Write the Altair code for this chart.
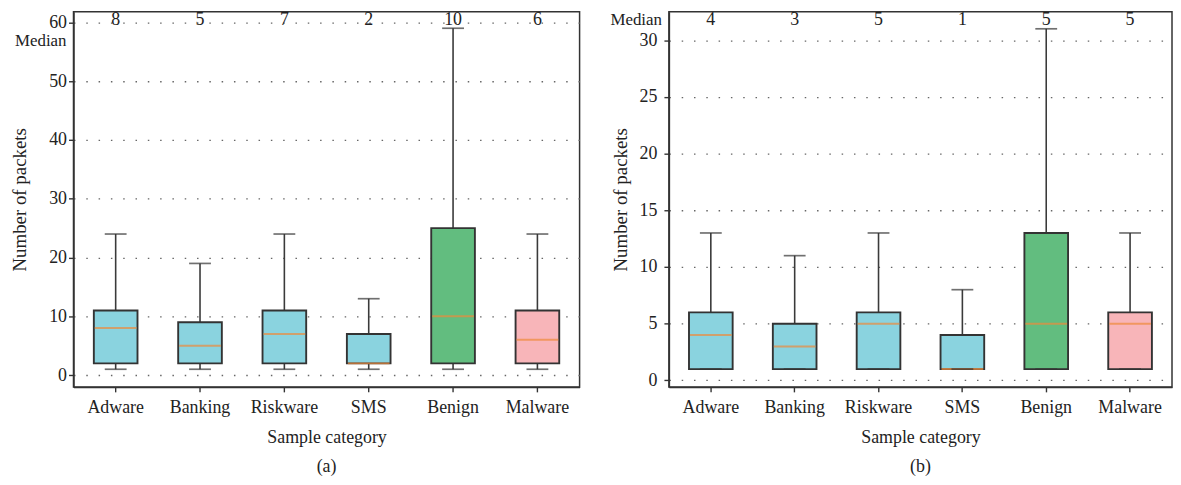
import altair as alt
import pandas as pd

categories = ["Adware", "Banking", "Riskware", "SMS", "Benign", "Malware"]

# Panel (a)
a_min = [1, 1, 1, 1, 1, 1]
a_q1 = [2, 2, 2, 2, 2, 2]
a_med = [8, 5, 7, 2, 10, 6]
a_q3 = [11, 9, 11, 7, 25, 11]
a_max = [24, 19, 24, 13, 59, 24]
a_ticks = [0, 10, 20, 30, 40, 50, 60]

# Panel (b)
b_min = [1, 1, 1, 1, 1, 1]
b_q1 = [1, 1, 1, 1, 1, 1]
b_med = [4, 3, 5, 1, 5, 5]
b_q3 = [6, 5, 6, 4, 13, 6]
b_max = [13, 11, 13, 8, 31, 13]
b_ticks = [0, 5, 10, 15, 20, 25, 30]

box_colors = ["#8AD3DF", "#8AD3DF", "#8AD3DF", "#8AD3DF", "#62BD7F", "#F8B5B9"]

FONT = "Liberation Serif"
TXT = "#222222"
LINE = "#333333"


def panel(mins, q1, med, q3, maxs, ticks, domain, width, label_pad, title_pad, median_xy, sub):
    df = pd.DataFrame({"cat": categories, "lo": mins, "q1": q1, "med": med,
                       "q3": q3, "hi": maxs})
    x = alt.X("cat:N", sort=categories, title="Sample category",
              scale=alt.Scale(paddingInner=0, paddingOuter=0),
              axis=alt.Axis(labelAngle=0, tickSize=5, labelPadding=7,
                            titlePadding=12, grid=False))
    yscale = alt.Scale(domain=domain, nice=False, zero=False)
    yaxis = alt.Axis(values=ticks, grid=True, gridDash=[1.5, 10.9],
                     gridColor="#666666", gridWidth=1.3, tickSize=5,
                     labelPadding=label_pad, titlePadding=title_pad,
                     title="Number of packets", titleFontSize=19)
    base = alt.Chart(df)
    upper = base.mark_rule(color="#3a3a3a", strokeWidth=1.6).encode(
        x=x, y=alt.Y("q3:Q", scale=yscale, axis=yaxis), y2="hi:Q")
    lower = base.mark_rule(color="#3a3a3a", strokeWidth=1.6).encode(
        x=x, y=alt.Y("lo:Q", scale=yscale), y2="q1:Q")
    box = base.mark_bar(size=44, stroke=LINE, strokeWidth=1.9).encode(
        x=x, y=alt.Y("q1:Q", scale=yscale), y2="q3:Q",
        color=alt.Color("cat:N", sort=categories, legend=None,
                        scale=alt.Scale(domain=categories, range=box_colors)))
    median = base.mark_tick(size=42, thickness=2, color="#EE8A3A").encode(
        x=x, y=alt.Y("med:Q", scale=yscale))
    cap_hi = base.mark_tick(size=22, thickness=1.7, color=LINE).encode(
        x=x, y=alt.Y("hi:Q", scale=yscale))
    cap_lo = base.mark_tick(size=22, thickness=1.7, color=LINE).encode(
        x=x, y=alt.Y("lo:Q", scale=yscale))
    top_txt = base.mark_text(font=FONT, fontSize=18, color=TXT,
                             baseline="middle").encode(
        x=x, y=alt.value(8), text="med:Q")
    med_lbl = alt.Chart(pd.DataFrame({"t": ["Median"]})).mark_text(
        font=FONT, fontSize=17, color=TXT, align="right", baseline="middle"
    ).encode(x=alt.value(median_xy[0]), y=alt.value(median_xy[1]), text="t:N")
    return alt.layer(upper, lower, box, median, cap_hi, cap_lo, top_txt, med_lbl).properties(
        width=width, height=378,
        title=alt.TitleParams(sub, orient="bottom", font=FONT, fontSize=18,
                              fontWeight="normal", color=TXT, offset=12))


left = panel(a_min, a_q1, a_med, a_q3, a_max, a_ticks, [-2.0, 61.8], 510, 2, 19,
             (-7, 29), "(a)")
right = panel(b_min, b_q1, b_med, b_q3, b_max, b_ticks, [-0.57, 32.5], 507, 7, 9,
              (-7, 8), "(b)")

chart = alt.hconcat(left, right, spacing=90, bounds="flush").properties(
    padding={"left": 2, "top": 0, "right": 0, "bottom": 0}
).configure_view(stroke=LINE, strokeWidth=1.5).configure_axis(
    labelFont=FONT, labelFontSize=18, labelColor=TXT,
    titleFont=FONT, titleFontSize=18, titleFontWeight="normal", titleColor=TXT,
    domainColor=LINE, domainWidth=1.5, tickColor=LINE, tickWidth=1.4
)

chart.save("out.html", embed_options={"renderer": "svg", "actions": False})
